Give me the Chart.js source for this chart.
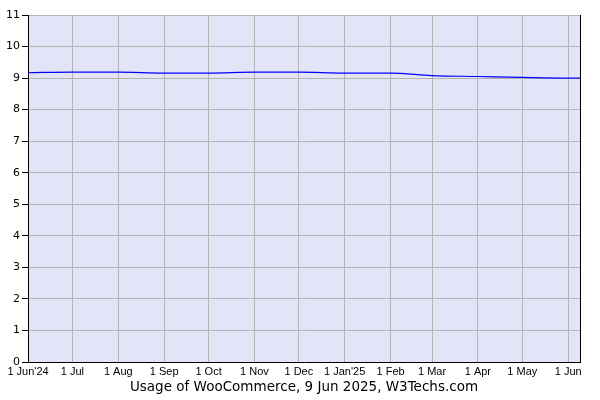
<!DOCTYPE html>
<html>
<head>
<meta charset="utf-8">
<script src="https://cdn.jsdelivr.net/npm/chart.js@4"></script>
<style>
  body { margin: 0; background: #fff; }
  #wrap { width: 600px; height: 400px; }
</style>
</head>
<body>
<div id="wrap"><canvas id="usage_chart"></canvas></div>
<script>
// month starts, counted in days from 1 Jun 2024
const monthLabels = ["1 Jun'24", '1 Jul', '1 Aug', '1 Sep', '1 Oct', '1 Nov', '1 Dec', "1 Jan'25", '1 Feb', '1 Mar', '1 Apr', '1 May', '1 Jun'];
const monthDays = [0, 30, 61, 92, 122, 153, 183, 214, 245, 273, 304, 334, 365];

// WooCommerce usage (% of websites), last point is 9 Jun 2025
const usageDays = [0, 30, 61, 92, 122, 153, 183, 214, 245, 273, 304, 334, 365, 373];
const usageValues = [9.17, 9.19, 9.19, 9.16, 9.16, 9.19, 9.19, 9.16, 9.16, 9.08, 9.05, 9.02, 9.0, 9.0];

const yTicks = [0, 1, 2, 3, 4, 5, 6, 7, 8, 9, 10, 11];
const endDay = 373;

const chartTitle = 'Usage of WooCommerce, 9 Jun 2025, W3Techs.com';

const plotBox = {
  id: 'plotBox',
  beforeDraw(chart) {
    const {ctx, chartArea: a} = chart;
    ctx.save();
    ctx.fillStyle = 'rgb(228, 228, 248)';
    ctx.fillRect(a.left, a.top, a.right - a.left, a.bottom - a.top);
    ctx.restore();
  },
  afterDraw(chart) {
    const {ctx, chartArea: a} = chart;
    ctx.save();
    ctx.strokeStyle = '#000';
    ctx.lineWidth = 1;
    ctx.beginPath();
    ctx.moveTo(Math.round(a.right) + 0.5, a.top);
    ctx.lineTo(Math.round(a.right) + 0.5, a.bottom + 1);
    ctx.stroke();
    ctx.restore();
  }
};

new Chart(document.getElementById('usage_chart'), {
  type: 'line',
  data: {
    datasets: [{
      label: 'WooCommerce',
      data: usageDays.map((d, i) => ({x: d, y: usageValues[i]})),
      borderColor: 'rgb(0, 0, 255)',
      borderWidth: 1.2,
      pointRadius: 0,
      cubicInterpolationMode: 'monotone'
    }]
  },
  options: {
    responsive: true,
    maintainAspectRatio: false,
    animation: false,
    layout: { padding: { top: 15, right: 20, left: 0, bottom: 0 } },
    plugins: {
      legend: { display: false },
      tooltip: { enabled: false }
    },
    scales: {
      x: {
        type: 'linear',
        min: 0,
        max: endDay,
        afterBuildTicks: (scale) => { scale.ticks = monthDays.map(v => ({value: v})); },
        afterFit: (scale) => { scale.height = 38; },
        ticks: {
          autoSkip: false,
          maxRotation: 0,
          padding: 3,
          color: '#000',
          font: { family: "'Liberation Sans Narrow', 'Liberation Sans', Arial, sans-serif", size: 11 },
          callback: (v, i) => monthLabels[i]
        },
        grid: { color: '#b4b4b4', drawTicks: false },
        border: { color: '#000', width: 1 },
        title: {
          display: true,
          text: chartTitle,
          color: '#000',
          padding: { top: 0, bottom: 4 },
          font: { family: "'DejaVu Sans', sans-serif", size: 13.5 }
        }
      },
      y: {
        min: 0,
        max: 11,
        afterBuildTicks: (scale) => { scale.ticks = yTicks.map(v => ({value: v})); },
        afterFit: (scale) => { scale.width = 28; },
        ticks: {
          padding: 2,
          color: '#000',
          font: { family: "'DejaVu Sans', sans-serif", size: 11 }
        },
        grid: { color: '#b4b4b4', tickColor: '#000', tickLength: 6 },
        border: { color: '#000', width: 1 }
      }
    }
  },
  plugins: [plotBox]
});
</script>
</body>
</html>
